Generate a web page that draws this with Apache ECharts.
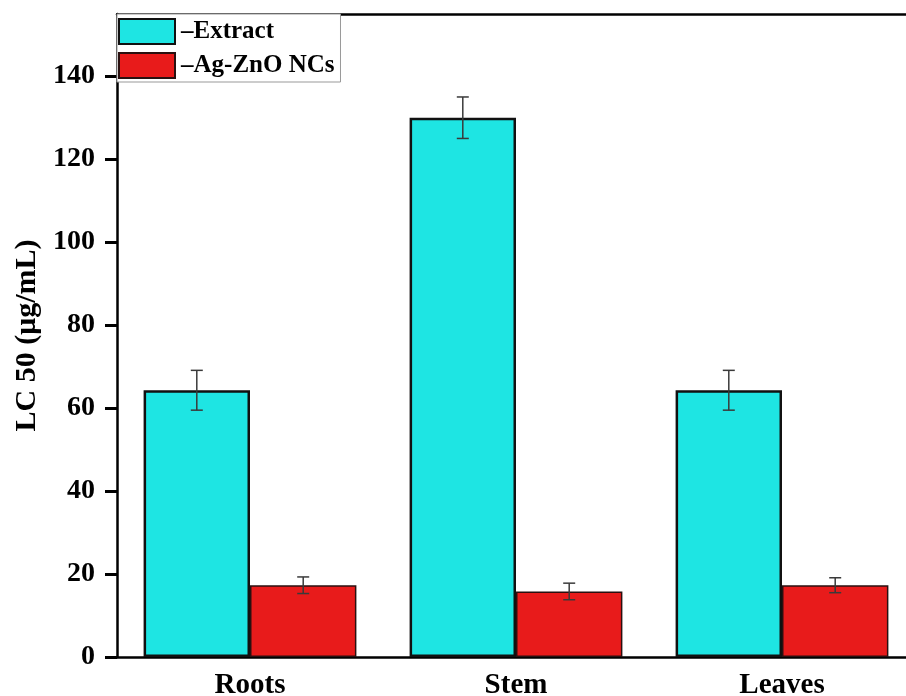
<!DOCTYPE html>
<html>
<head>
<meta charset="utf-8">
<script src="https://cdn.jsdelivr.net/npm/echarts@6/dist/echarts.min.js"></script>
<style>html,body{margin:0;padding:0;background:#fff;overflow:hidden;}#c{width:906px;height:696px;}</style>
</head>
<body>
<div id="c"></div>
<script>
const categories = ['Roots', 'Stem', 'Leaves'];
const extractValues = [64.3, 130.0, 64.3];
const extractErrors = [4.8, 5.0, 4.8];
const agznoValues = [17.3, 15.8, 17.3];
const agznoErrors = [2.0, 2.0, 1.8];
const seriesNames = ['–Extract', '–Ag-ZnO NCs'];
const yTicks = [0, 20, 40, 60, 80, 100, 120, 140];

const FONT = '"Liberation Serif", "Times New Roman", serif';
const chart = echarts.init(document.getElementById('c'));

function errorSeries(values, errors, sideIndex) {
  return {
    type: 'custom',
    z: 10,
    silent: true,
    data: categories.map((c, i) => [i, values[i] - errors[i], values[i] + errors[i]]),
    renderItem: function (params, api) {
      const x = api.value(0);
      const lo = api.coord([x, api.value(1)]);
      const hi = api.coord([x, api.value(2)]);
      const catW = api.size([1, 0])[0];
      const barW = catW * 0.8 / 2;
      const off = sideIndex === 0 ? -barW / 2 : barW / 2;
      const cx = lo[0] + off;
      const cap = 6;
      const style = { stroke: '#3a3a3a', lineWidth: 1.5 };
      return {
        type: 'group',
        children: [
          { type: 'line', shape: { x1: cx, y1: lo[1], x2: cx, y2: hi[1] }, style: style },
          { type: 'line', shape: { x1: cx - cap, y1: lo[1], x2: cx + cap, y2: lo[1] }, style: style },
          { type: 'line', shape: { x1: cx - cap, y1: hi[1], x2: cx + cap, y2: hi[1] }, style: style }
        ]
      };
    }
  };
}

chart.setOption({
  animation: false,
  backgroundColor: '#fff',
  grid: { left: 117, top: 14, width: 798, bottom: 39, containLabel: false, outerBoundsMode: 'none' },
  legend: {
    orient: 'vertical',
    left: 117,
    top: 14,
    icon: 'rect',
    itemWidth: 56,
    itemHeight: 25,
    itemGap: 7,
    padding: [4, 6, 3, 1],
    borderColor: '#999',
    borderWidth: 1,
    backgroundColor: '#fff',
    data: seriesNames,
    textStyle: { fontFamily: FONT, fontWeight: 'bold', fontSize: 25, color: '#000', padding: [0, 0, 0, 1] }
  },
  xAxis: [{
    type: 'category',
    data: categories,
    axisLine: { lineStyle: { color: '#000', width: 2.5 } },
    axisTick: { show: false },
    axisLabel: { fontFamily: FONT, fontWeight: 'bold', fontSize: 29, color: '#000', margin: 14 }
  }, {
    type: 'category',
    position: 'top',
    data: categories,
    axisLine: { lineStyle: { color: '#000', width: 2.5 } },
    axisTick: { show: false },
    axisLabel: { show: false }
  }],
  yAxis: {
    type: 'value',
    min: 0,
    max: 155,
    interval: 20,
    name: 'LC 50 (μg/mL)',
    nameLocation: 'middle',
    nameGap: 75,
    nameTextStyle: { fontFamily: FONT, fontWeight: 'bold', fontSize: 30, color: '#000' },
    axisLine: { show: true, lineStyle: { color: '#000', width: 2.5 } },
    axisTick: { show: true, inside: false, length: 12, customValues: yTicks, lineStyle: { color: '#000', width: 3 } },
    splitLine: { show: false },
    axisLabel: {
      fontFamily: FONT, fontWeight: 'bold', fontSize: 28, color: '#000', margin: 22,
      customValues: yTicks
    }
  },
  series: [
    {
      name: seriesNames[0],
      type: 'bar',
      data: extractValues,
      barGap: '0%',
      barCategoryGap: '20%',
      itemStyle: { color: '#1ee5e3', borderColor: '#111', borderWidth: 2.5 }
    },
    {
      name: seriesNames[1],
      type: 'bar',
      data: agznoValues,
      barGap: '0%',
      barCategoryGap: '20%',
      itemStyle: { color: '#e81b1b', borderColor: '#2a1010', borderWidth: 1.5 }
    },
    errorSeries(extractValues, extractErrors, 0),
    errorSeries(agznoValues, agznoErrors, 1)
  ]
});
</script>
</body>
</html>
